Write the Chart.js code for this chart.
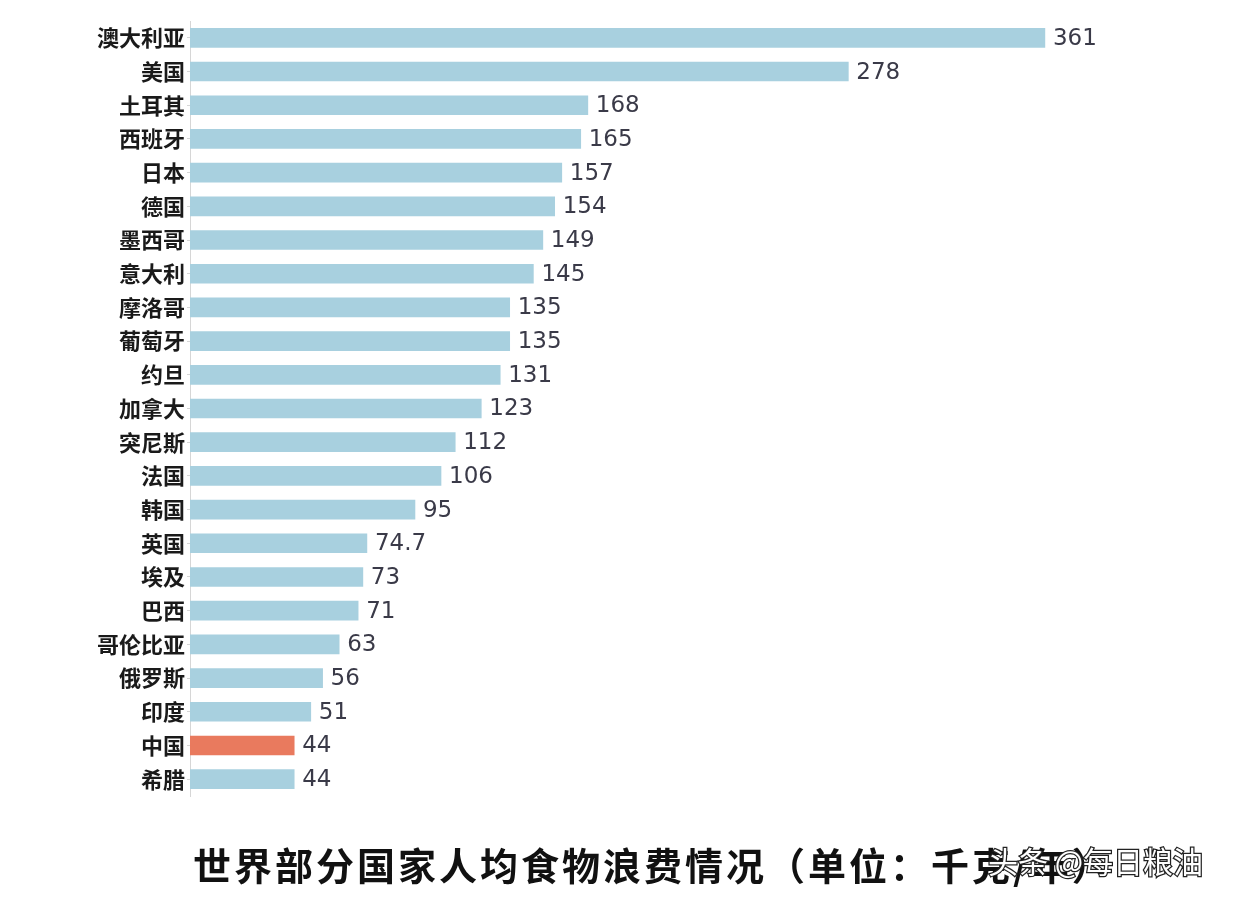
<!DOCTYPE html>
<html>
<head>
<meta charset="utf-8">
<script src="https://cdn.jsdelivr.net/npm/chart.js@4"></script>
<style>
  html, body { margin: 0; padding: 0; background: #fff; }
  #wrap { width: 1242px; height: 904px; }
</style>
</head>
<body>
<div id="wrap"><canvas id="wasteChart" width="1242" height="904"></canvas></div>
<script>
// 世界部分国家人均食物浪费 (千克/年)
const countries = ['澳大利亚', '美国', '土耳其', '西班牙', '日本', '德国', '墨西哥', '意大利',
  '摩洛哥', '葡萄牙', '约旦', '加拿大', '突尼斯', '法国', '韩国', '英国', '埃及', '巴西',
  '哥伦比亚', '俄罗斯', '印度', '中国', '希腊'];
const waste = [361, 278, 168, 165, 157, 154, 149, 145, 135, 135, 131, 123, 112, 106, 95, 74.7,
  73, 71, 63, 56, 51, 44, 44];
const highlight = '中国';
const chartTitle = '世界部分国家人均食物浪费情况（单位：千克/年）';
const watermark = '头条 @每日粮油';

const barColors = countries.map(c => c === highlight ? '#e97a5e' : '#a8d0df');

// number labels at the end of each bar
const valueLabels = {
  id: 'valueLabels',
  afterDatasetsDraw(chart) {
    const ctx = chart.ctx;
    const meta = chart.getDatasetMeta(0);
    ctx.save();
    ctx.font = '23px "DejaVu Sans"';
    ctx.fillStyle = '#3a3a48';
    ctx.textBaseline = 'middle';
    ctx.textAlign = 'left';
    meta.data.forEach((bar, i) => {
      ctx.fillText(String(waste[i]), bar.x + 8, bar.y + 1);
    });
    ctx.restore();
  }
};

// title under the chart, with the watermark on top
const bottomTitle = {
  id: 'bottomTitle',
  afterDraw(chart) {
    const ctx = chart.ctx;
    ctx.save();
    ctx.font = 'bold 38px "Noto Sans CJK SC"';
    ctx.letterSpacing = '3px';
    ctx.fillStyle = '#111';
    ctx.textBaseline = 'middle';
    ctx.fillText(chartTitle, 193, 866);
    ctx.letterSpacing = '0px';
    ctx.font = '30px "Noto Sans CJK SC"';
    ctx.lineWidth = 2.5;
    ctx.strokeStyle = '#222';
    ctx.fillStyle = '#fff';
    ctx.strokeText(watermark, 988, 862);
    ctx.fillText(watermark, 988, 862);
    ctx.restore();
  }
};

const ctx = document.getElementById('wasteChart').getContext('2d');
const chart = new Chart(ctx, {
  type: 'bar',
  data: {
    labels: countries,
    datasets: [{
      data: waste,
      backgroundColor: barColors,
      borderWidth: 0,
      barThickness: 19
    }]
  },
  plugins: [valueLabels, bottomTitle],
  options: {
    indexAxis: 'y',
    responsive: false,
    animation: false,
    layout: { padding: { top: 21, bottom: 108, left: 0, right: 42 } },
    plugins: {
      legend: { display: false },
      tooltip: { enabled: false }
    },
    scales: {
      x: {
        display: false,
        min: 0,
        max: 426.5
      },
      y: {
        afterFit(scale) { scale.width = 190; },
        grid: {
          offset: false,
          drawOnChartArea: false,
          drawTicks: true,
          tickLength: 3,
          color: '#d6d6d6'
        },
        border: { display: true, color: '#d6d6d6', width: 1 },
        ticks: {
          color: '#1a1a1a',
          padding: 2,
          font: { family: '"Noto Sans CJK SC"', size: 22, weight: 'bold' }
        }
      }
    }
  }
});
</script>
</body>
</html>
